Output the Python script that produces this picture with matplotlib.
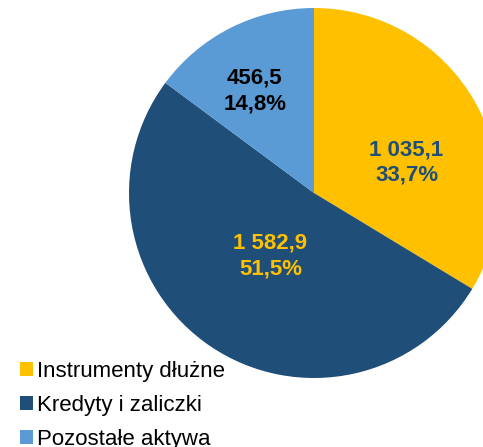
import matplotlib.pyplot as plt
from matplotlib.patches import Patch

plt.rcParams['font.family'] = ['Liberation Sans', 'DejaVu Sans']

# data (mld zl)
categories = ['Instrumenty dłużne', 'Kredyty i zaliczki', 'Pozostałe aktywa']
values = [1035.1, 1582.9, 456.5]
colors = ['#FFC000', '#1F4E79', '#5B9BD5']
label_colors = ['#1F4E79', '#FFC000', '#000000']
# label centres in axes-data units (pie radius = 1)
label_pos = [(0.50, 0.165), (-0.235, -0.34), (-0.32, 0.55)]


def fmt(v, dec=1):
    s = f'{v:,.{dec}f}'
    return s.replace(',', ' ').replace('.', ',')


fig = plt.figure(figsize=(4.83, 4.47), dpi=100)
W, H = 483, 447
cx, cy, r = 314, 193, 185
ax = fig.add_axes([(cx - r) / W, (H - cy - r) / H, 2 * r / W, 2 * r / H])

wedges, _ = ax.pie(values, colors=colors, startangle=90, counterclock=False,
                   radius=1, wedgeprops=dict(linewidth=0))
ax.set_xlim(-1, 1)
ax.set_ylim(-1, 1)
ax.set_aspect('equal')
for w in wedges:
    w.set_clip_on(False)

total = sum(values)
for v, c, (x, y) in zip(values, label_colors, label_pos):
    pct = v / total * 100
    ax.text(x, y, fmt(v) + '\n' + fmt(pct) + '%', ha='center', va='center',
            fontsize=16, fontweight='bold', color=c, linespacing=1.3)

handles = [Patch(facecolor=c, edgecolor='none') for c in colors]
fig.legend(handles, categories, loc='upper left', bbox_to_anchor=(20 / W, 1 - 361 / H),
           frameon=False, fontsize=16, handlelength=0.6, handleheight=0.6,
           handletextpad=0.15, labelspacing=0.58, borderaxespad=0, borderpad=0)

fig.savefig('out.png', dpi=100)
